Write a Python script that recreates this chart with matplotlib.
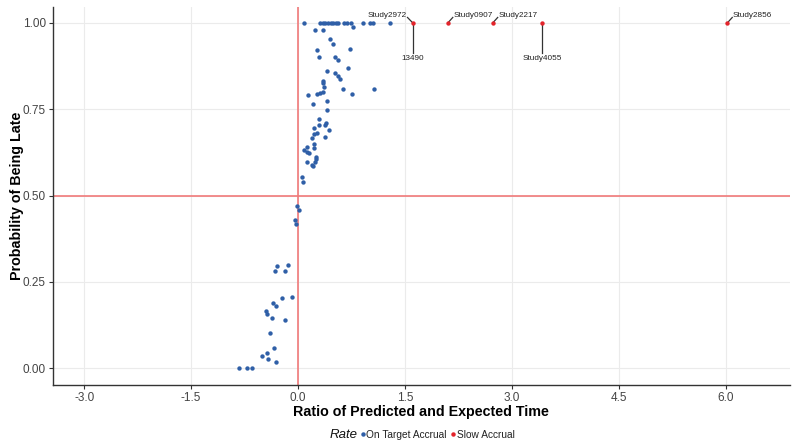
import matplotlib
matplotlib.use("Agg")
import matplotlib.pyplot as plt
from matplotlib.lines import Line2D

plt.rcParams['font.family'] = ['Liberation Sans', 'DejaVu Sans']

# On Target Accrual (blue)
on_x = [0.08, 0.31, 0.35, 0.38, 0.42, 0.46, 0.49, 0.53, 0.56, 0.645, 0.69, 0.74, 0.91, 1.01, 1.05, 1.29, 0.77,
        0.14, 0.24, 0.35, 0.45, 0.49, 0.27, 0.73, 0.29, 0.52, 0.56, 0.70, 0.41, 0.52, 0.56, 0.59, 0.35, 0.35,
        0.36, 0.63, 1.07, 0.27, 0.31, 0.35, 0.76, 0.21, 0.41, 0.41, 0.29, 0.39, 0.29, 0.38, 0.22, 0.43, 0.27,
        0.22, 0.20, 0.38, 0.22, 0.22, 0.13, 0.08, 0.13, 0.15, 0.25, 0.25, 0.24, 0.13, 0.20, 0.21, 0.06, 0.07,
        -0.01, 0.01, -0.04, -0.03, -0.32, -0.29, -0.18, -0.14, -0.22, -0.08, -0.35, -0.31, -0.45, -0.43, -0.36,
        -0.18, -0.39, -0.34, -0.43, -0.50, -0.42, -0.31, -0.83, -0.72, -0.65]
on_y = [1.0, 1.0, 1.0, 1.0, 1.0, 1.0, 1.0, 1.0, 1.0, 1.0, 1.0, 1.0, 1.0, 1.0, 1.0, 1.0, 0.988,
        0.791, 0.98, 0.98, 0.954, 0.939, 0.922, 0.925, 0.901, 0.901, 0.893, 0.870, 0.861, 0.855, 0.846, 0.838,
        0.832, 0.826, 0.814, 0.809, 0.809, 0.794, 0.797, 0.800, 0.794, 0.765, 0.774, 0.748, 0.722, 0.710, 0.704,
        0.704, 0.696, 0.690, 0.681, 0.678, 0.667, 0.670, 0.649, 0.638, 0.641, 0.632, 0.626, 0.623, 0.612, 0.606,
        0.597, 0.597, 0.588, 0.586, 0.554, 0.539, 0.470, 0.458, 0.429, 0.417, 0.281, 0.296, 0.281, 0.299, 0.203,
        0.206, 0.188, 0.180, 0.165, 0.157, 0.145, 0.139, 0.101, 0.058, 0.043, 0.035, 0.026, 0.017, 0.0, 0.0, 0.0]

# Slow Accrual (red)
slow_x = [1.61, 2.10, 2.73, 3.42, 6.02]
slow_y = [1.0, 1.0, 1.0, 1.0, 1.0]

# Labels: (text, index of slow point)
label_text = ["Study2972", "13490", "Study0907", "Study2217", "Study4055", "Study2856"]
label_idx = [0, 0, 1, 2, 3, 4]
label_side = ['upleft', 'down', 'upright', 'upright', 'down', 'upright']

xticks = [-3.0, -1.5, 0.0, 1.5, 3.0, 4.5, 6.0]
yticks = [0.0, 0.25, 0.5, 0.75, 1.0]

blue = '#2f5fa7'
red = '#e3242b'
refred = '#f07a7a'

fig = plt.figure(figsize=(8, 4.44), dpi=100)
ax = fig.add_axes([0.066, 0.133, 0.9215, 0.851])
ax.set_xlim(-3.44, 6.9)
ax.set_ylim(-0.049, 1.046)

ax.set_xticks(xticks)
ax.set_xticklabels([f"{t:.1f}" for t in xticks])
ax.set_yticks(yticks)
ax.set_yticklabels([f"{t:.2f}" for t in yticks])
ax.grid(True, color='#ebebeb', linewidth=0.8)
ax.set_axisbelow(True)
for s in ['top', 'right']:
    ax.spines[s].set_visible(False)
for s in ['left', 'bottom']:
    ax.spines[s].set_color('#333333')
    ax.spines[s].set_linewidth(1.0)
ax.tick_params(colors='#333333', labelsize=8.5, length=3, pad=2, labelcolor='#444444')

ax.axvline(0, color=refred, linewidth=1.2, zorder=1)
ax.axhline(0.5, color=refred, linewidth=1.2, zorder=1)

ax.scatter(on_x, on_y, s=10, color=blue, zorder=3, linewidths=0)
ax.scatter(slow_x, slow_y, s=10, color=red, zorder=3, linewidths=0)

for text, i, side in zip(label_text, label_idx, label_side):
    px, py = slow_x[i], slow_y[i]
    if side == 'down':
        tx, ty = px, py - 0.088
        ax.plot([px, tx], [py, ty], color='#333333', linewidth=0.9, zorder=2)
        ax.text(tx, ty - 0.004, text, ha='center', va='top', fontsize=5.9, color='#222222')
    elif side == 'upleft':
        tx, ty = px - 0.075, py + 0.016
        ax.plot([px, tx], [py, ty], color='#333333', linewidth=0.9, zorder=2)
        ax.text(tx - 0.01, ty + 0.006, text, ha='right', va='center', fontsize=5.9, color='#222222')
    else:
        tx, ty = px + 0.07, py + 0.016
        ax.plot([px, tx], [py, ty], color='#333333', linewidth=0.9, zorder=2)
        ax.text(tx + 0.01, ty + 0.006, text, ha='left', va='center', fontsize=5.9, color='#222222')

ax.set_xlabel("Ratio of Predicted and Expected Time", fontsize=10.3, fontweight='bold')
ax.set_ylabel("Probability of Being Late", fontsize=10.3, fontweight='bold')
ax.xaxis.set_label_coords(0.5, -0.052)
ax.yaxis.set_label_coords(-0.039, 0.5)

# Legend drawn manually along the bottom
ly = 1 - 435 / 444
fig.text(330 / 800, ly, "Rate", fontsize=9.5, fontstyle='italic', ha='left', va='center', color='#111111')
fig.add_artist(Line2D([363 / 800], [ly + 0.003], marker='o', linestyle='', color=blue, markersize=2.2, transform=fig.transFigure))
fig.text(366 / 800, ly, "On Target Accrual", fontsize=7.3, ha='left', va='center', color='#222222')
fig.add_artist(Line2D([453 / 800], [ly + 0.003], marker='o', linestyle='', color=red, markersize=2.2, transform=fig.transFigure))
fig.text(456.5 / 800, ly, "Slow Accrual", fontsize=7.3, ha='left', va='center', color='#222222')

fig.savefig("out.png", dpi=100)
